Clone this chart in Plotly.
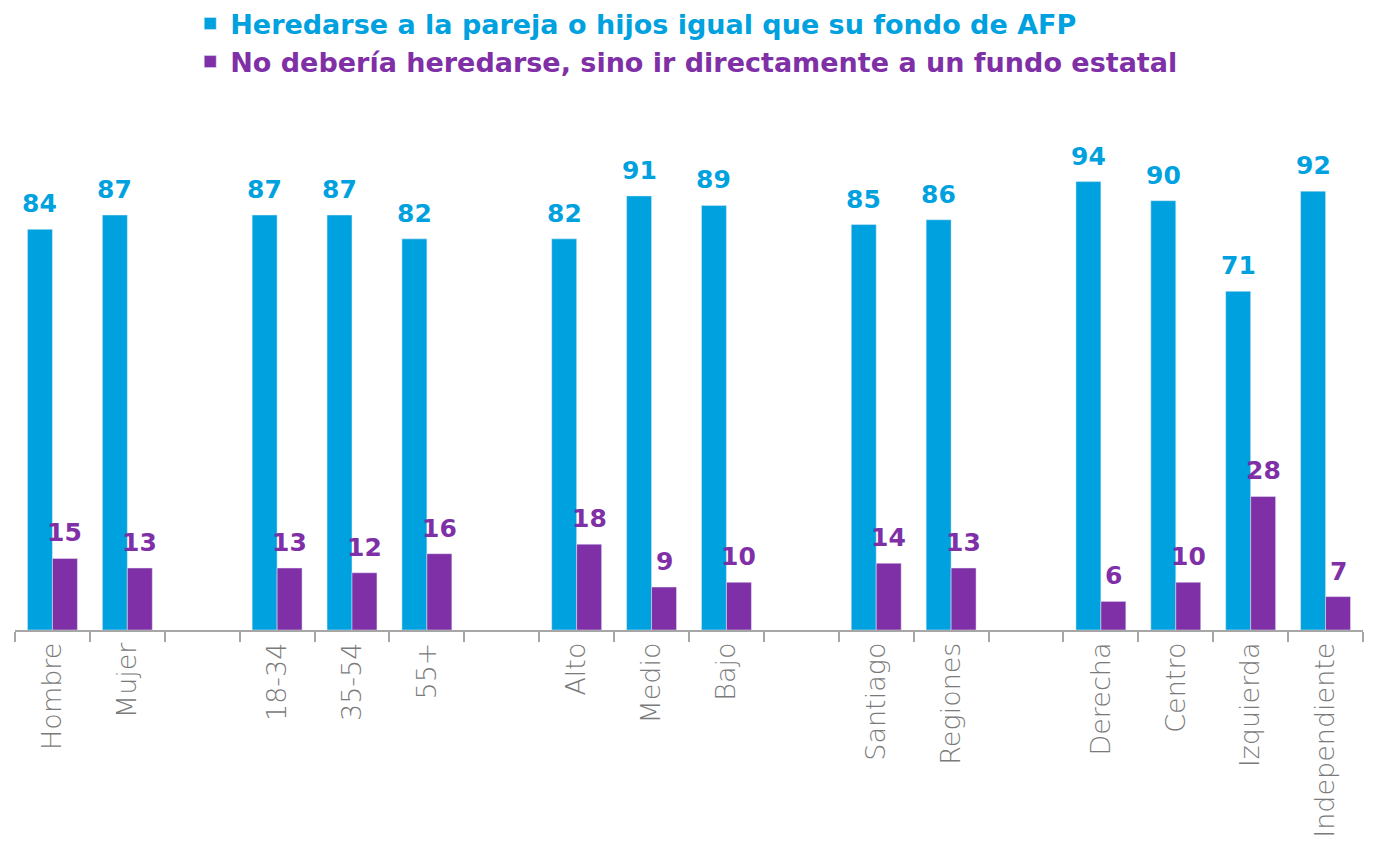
import plotly.graph_objects as go

categories = ["Hombre", "Mujer", " ", "18-34", "35-54", "55+", "  ", "Alto", "Medio", "Bajo", "   ",
              "Santiago", "Regiones", "    ", "Derecha", "Centro", "Izquierda", "Independiente"]
heredarse = [84, 87, None, 87, 87, 82, None, 82, 91, 89, None, 85, 86, None, 94, 90, 71, 92]
no_heredarse = [15, 13, None, 13, 12, 16, None, 18, 9, 10, None, 14, 13, None, 6, 10, 28, 7]

name1 = "Heredarse a la pareja o hijos igual que su fondo de AFP"
name2 = "No debería heredarse, sino ir directamente a un fundo estatal"
BLUE = "#00A1DF"
PURPLE = "#7F30A7"
FONT = "DejaVu Sans"

fig = go.Figure()
fig.add_trace(go.Bar(
    x=categories, y=heredarse, marker_color=BLUE,
    name=f"<b><span style='color:{BLUE}'>{name1}</span></b>",
))
fig.add_trace(go.Bar(
    x=categories, y=no_heredarse, marker_color=PURPLE,
    name=f"<b><span style='color:{PURPLE}'>{name2}</span></b>",
))

annotations = []
for series, color, shift in [(heredarse, BLUE, -12.5), (no_heredarse, PURPLE, 12.5)]:
    for cat, val in zip(categories, series):
        if val is None:
            continue
        annotations.append(dict(
            x=cat, y=val, xref="x", yref="y", text=f"<b>{val}</b>", showarrow=False,
            xanchor="center", yanchor="bottom", xshift=shift, yshift=9,
            font=dict(size=25, color=color, family=FONT),
        ))

fig.update_layout(
    width=1370, height=838,
    paper_bgcolor="white", plot_bgcolor="white",
    barmode="group", bargap=1/3, bargroupgap=0,
    margin=dict(l=7, r=15, t=145, b=216, autoexpand=False),
    font=dict(family=FONT),
    annotations=annotations,
    legend=dict(
        orientation="v", x=0.13, xanchor="left", y=1.322, yref="paper", yanchor="top",
        font=dict(size=27, family=FONT), tracegroupgap=0, itemclick=False,
        bgcolor="rgba(0,0,0,0)",
    ),
    showlegend=True,
)
fig.update_xaxes(
    type="category", categoryorder="array", categoryarray=categories,
    showline=True, linecolor="#A6A6A6", linewidth=1.5,
    ticks="outside", tickson="boundaries", ticklen=10, tickcolor="#A6A6A6", tickwidth=1.5,
    tickangle=-90,
    tickfont=dict(size=27, color="#7A7A7A", family="DejaVu Sans ExtraLight, DejaVu Sans Light, DejaVu Sans", weight=300),
    showgrid=False, automargin=False, fixedrange=True,
)
fig.update_yaxes(range=[0, 100], visible=False, showgrid=False, fixedrange=True)

fig.write_html("out.html")
